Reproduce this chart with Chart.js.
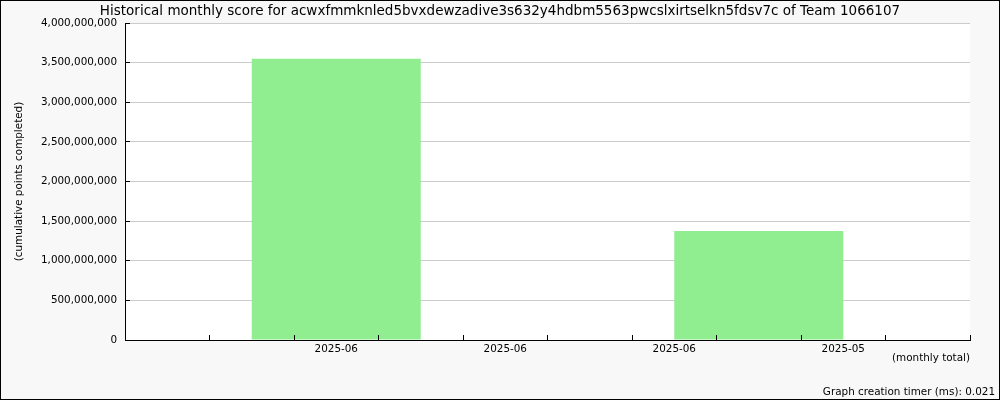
<!DOCTYPE html>
<html>
<head>
    <title>Historical monthly score</title>
    <script src="https://cdn.jsdelivr.net/npm/chart.js"></script>
    <style>
        body { margin: 0; background: #f8f8f8; }
        #chart-box { width: 1000px; height: 400px; }
    </style>
</head>
<body>
    <div id="chart-box">
        <canvas id="scoreChart" width="1000" height="400"></canvas>
    </div>

    <script>
    // data
    const chartTitle = 'Historical monthly score for acwxfmmknled5bvxdewzadive3s632y4hdbm5563pwcslxirtselkn5fdsv7c of Team 1066107';
    const monthLabels = ['2025-06', '2025-06', '2025-06', '2025-05'];
    const labelSlots = [2.5, 4.5, 6.5, 8.5];   // where the month labels sit on the x scale
    const barSlots = [2.5, 7.5];               // where the two bars sit on the x scale
    const scores = [3550000000, 1375000000];
    const yTicks = [0, 500000000, 1000000000, 1500000000, 2000000000, 2500000000, 3000000000, 3500000000, 4000000000];
    const timerText = 'Graph creation timer (ms): 0.021';

    const FONT = 'DejaVu Sans';

    // grey page, black frame, white plot area, title and footer text
    // (title drawn here so it is centred on the whole image, not on the padded box)
    const backdrop = {
        id: 'backdrop',
        beforeDraw(chart) {
            const ctx = chart.ctx;
            const a = chart.chartArea;
            ctx.save();
            ctx.fillStyle = '#f8f8f8';
            ctx.fillRect(0, 0, chart.width, chart.height);
            ctx.strokeStyle = '#000';
            ctx.lineWidth = 1;
            ctx.strokeRect(0.5, 0.5, chart.width - 1, chart.height - 1);
            ctx.fillStyle = '#fff';
            ctx.fillRect(a.left, a.top, a.right - a.left, a.bottom - a.top);
            ctx.restore();
        },
        afterDraw(chart) {
            const ctx = chart.ctx;
            ctx.save();
            ctx.fillStyle = '#000';
            ctx.textBaseline = 'middle';
            ctx.font = '13.5px "' + FONT + '"';
            ctx.textAlign = 'center';
            ctx.fillText(chartTitle, chart.width / 2, 11);
            ctx.font = '10.4px "' + FONT + '"';
            ctx.textAlign = 'right';
            ctx.fillText(timerText, chart.width - 5, chart.height - 8);
            ctx.restore();
        }
    };

    const ctx = document.getElementById('scoreChart').getContext('2d');
    window.scoreChart = new Chart(ctx, {
        type: 'bar',
        data: {
            datasets: [{
                label: 'score',
                data: barSlots.map((x, i) => ({ x: x, y: scores[i] })),
                backgroundColor: '#90ee90',
                borderWidth: 0,
                categoryPercentage: 1,
                barPercentage: 4   // bar spans two x units (ticks are every half unit)
            }]
        },
        options: {
            responsive: false,
            animation: false,
            layout: { padding: { left: 0, right: 30, top: 23, bottom: 0 } },
            plugins: {
                legend: { display: false },
                tooltip: { enabled: false },
                title: { display: false }
            },
            scales: {
                x: {
                    type: 'linear',
                    min: 0,
                    max: 10,
                    offset: false,
                    afterBuildTicks: function(scale) {
                        const t = [];
                        for (let v = 0; v <= 10; v += 0.5) t.push({ value: v });
                        scale.ticks = t;
                    },
                    afterFit: function(scale) { scale.height = 60; },
                    ticks: {
                        autoSkip: false,
                        maxRotation: 0,
                        padding: 8,
                        color: '#000',
                        font: { family: FONT, size: 10.4 },
                        callback: function(value) {
                            const i = labelSlots.indexOf(value);
                            return i >= 0 ? monthLabels[i] : '';
                        }
                    },
                    grid: {
                        z: 1,   // tick marks sit on top of the bars
                        offset: false,
                        drawOnChartArea: false,
                        tickLength: -5,
                        tickColor: function(c) {
                            return Number.isInteger(c.tick.value) ? '#000' : 'rgba(0,0,0,0)';
                        }
                    },
                    border: { display: true, color: '#000', width: 1, z: 1 },
                    title: {
                        display: true,
                        text: '(monthly total)',
                        align: 'end',
                        color: '#000',
                        font: { family: FONT, size: 10.4 },
                        padding: { top: 0, bottom: 35 }
                    }
                },
                y: {
                    min: 0,
                    max: 4000000000,
                    afterBuildTicks: function(scale) {
                        scale.ticks = yTicks.map(v => ({ value: v }));
                    },
                    afterFit: function(scale) { scale.width = 125; },
                    ticks: {
                        padding: 13,
                        color: '#000',
                        font: { family: FONT, size: 10.4 },
                        callback: function(value) {
                            return value.toLocaleString('en-US');
                        }
                    },
                    grid: {
                        color: '#cccccc',
                        tickColor: '#000',
                        tickLength: -5
                    },
                    border: { display: true, color: '#000', width: 1 },
                    title: {
                        display: true,
                        text: '(cumulative points completed)',
                        color: '#000',
                        font: { family: FONT, size: 10.4 },
                        padding: 13
                    }
                }
            }
        },
        plugins: [backdrop]
    });
    </script>
</body>
</html>
